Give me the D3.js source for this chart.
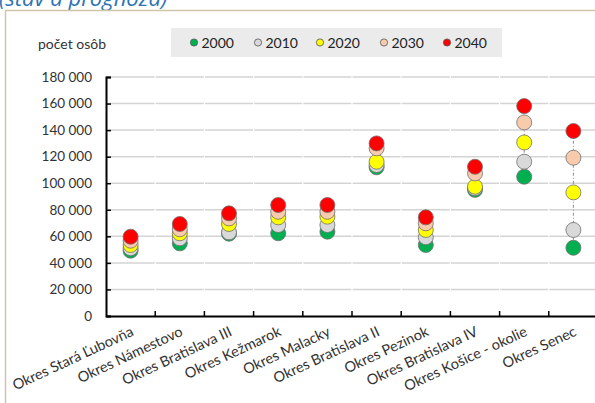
<!DOCTYPE html>
<html><head><meta charset="utf-8">
<script src="https://cdn.jsdelivr.net/npm/d3@7"></script>
<style>html,body{margin:0;padding:0;background:#fff;overflow:hidden}</style>
</head><body>
<svg id="c" width="595" height="403"></svg>
<script>
const categories = ["Okres Stará Ľubovňa","Okres Námestovo","Okres Bratislava III","Okres Kežmarok","Okres Malacky","Okres Bratislava II","Okres Pezinok","Okres Bratislava IV","Okres Košice - okolie","Okres Senec"];
const years = ["2000","2010","2020","2030","2040"];
const v2000 = [49200, 54700, 62000, 62300, 63500, 112000, 53500, 95000, 104900, 51400];
const v2010 = [51000, 58500, 63000, 68500, 68500, 113700, 59300, 96200, 116200, 64800];
const v2020 = [53500, 62300, 69300, 74300, 74800, 116200, 64800, 97400, 130700, 93100];
const v2030 = [56700, 65300, 73500, 78500, 78500, 126300, 69800, 107400, 145800, 119200];
const v2040 = [59700, 69300, 77300, 83600, 83600, 130000, 74300, 112400, 158100, 139300];
const yTicks = [0,20000,40000,60000,80000,100000,120000,140000,160000,180000];
const colors = ["#00b050","#d9d9d9","#ffff00","#f8cbad","#ff0000"];
const series = [v2000, v2010, v2020, v2030, v2040];

const svg = d3.select("#c");
const FONT = "Lato, 'Open Sans', sans-serif";
const L = 106, R = 598, T = 77, B = 316;

// title (cut off at top)
svg.append("text").attr("x", -1).attr("y", 6).attr("font-family", "'Open Sans', sans-serif")
  .attr("font-style", "italic").attr("font-size", 22).attr("fill", "#2e74b5").text("(stav a prognóza)");

// chart frame
svg.append("path").attr("d", "M5.5,403 V10.5 H595").attr("fill", "none").attr("stroke", "#cfc6a8").attr("stroke-width", 1.5);

const x = d3.scaleBand().domain(categories).range([L, R]);
const y = d3.scaleLinear().domain([0, 180000]).range([B, T]);

// gridlines
svg.append("g").selectAll("line").data(yTicks.slice(1)).join("line")
  .attr("x1", L).attr("x2", R).attr("y1", d => y(d)).attr("y2", d => y(d))
  .attr("stroke", "#d4d4d4").attr("stroke-width", 1.5);
// small white gaps at category boundaries
svg.append("g").selectAll("line").data(categories.slice(1)).join("line")
  .attr("x1", d => x(d)).attr("x2", d => x(d)).attr("y1", T - 2).attr("y2", B - 6)
  .attr("stroke", "#fff").attr("stroke-width", 1.2);

// y axis
const yAxis = svg.append("g").attr("transform", `translate(${L},0)`)
  .call(d3.axisLeft(y).tickValues(yTicks).tickSize(-5).tickPadding(14)
    .tickFormat(d => d3.format(",")(d).replace(/,/g, " ")));
yAxis.select(".domain").attr("stroke", "#000").attr("stroke-width", 2);
yAxis.selectAll(".tick line").attr("stroke", "#000").attr("stroke-width", 1.5);
yAxis.selectAll("text").attr("font-family", FONT).attr("font-size", 13.5).attr("fill", "#333");

// x axis
const xAxis = svg.append("g").attr("transform", `translate(0,${B})`)
  .call(d3.axisBottom(x).tickSize(0).tickFormat(""));
xAxis.select(".domain").attr("stroke", "#000").attr("stroke-width", 2);
svg.append("g").selectAll("line").data(categories.slice(1)).join("line")
  .attr("x1", d => x(d)).attr("x2", d => x(d)).attr("y1", B).attr("y2", B - 5)
  .attr("stroke", "#000").attr("stroke-width", 1.5);

// x labels
svg.append("g").selectAll("text").data(categories).join("text")
  .attr("transform", d => `translate(${x(d) + x.bandwidth() / 2 + 4},${B + 19}) rotate(-25)`)
  .attr("text-anchor", "end").attr("font-family", FONT).attr("font-size", 14.5)
  .attr("fill", "#333").text(d => d);

// drop lines
svg.append("g").selectAll("line").data(categories).join("line")
  .attr("x1", d => x(d) + x.bandwidth() / 2).attr("x2", d => x(d) + x.bandwidth() / 2)
  .attr("y1", (d, i) => y(d3.min(series, s => s[i])))
  .attr("y2", (d, i) => y(d3.max(series, s => s[i])))
  .attr("stroke", "#8c8c8c").attr("stroke-width", 1).attr("stroke-dasharray", "3,2,1,2");

// points
series.forEach((s, k) => {
  svg.append("g").selectAll("circle").data(categories).join("circle")
    .attr("cx", d => x(d) + x.bandwidth() / 2)
    .attr("cy", (d, i) => y(s[i]))
    .attr("r", 7.5).attr("fill", colors[k]).attr("stroke", "#6e6e6e").attr("stroke-width", 0.8);
});

// y title
svg.append("text").attr("x", 38).attr("y", 49).attr("font-family", FONT).attr("font-size", 14)
  .attr("fill", "#333").text("počet osôb");

// legend
svg.append("rect").attr("x", 171).attr("y", 28).attr("width", 331).attr("height", 29).attr("fill", "#ebebeb");
const lx = [194, 258, 320, 384, 447];
const lg = svg.append("g").selectAll("g").data(years).join("g")
  .attr("transform", (d, i) => `translate(${lx[i]},42.5)`);
lg.append("circle").attr("r", 3.6).attr("fill", (d, i) => colors[i]).attr("stroke", "#555").attr("stroke-width", 0.8);
lg.append("text").attr("x", 7.5).attr("y", 5).attr("font-family", FONT).attr("font-size", 14)
  .attr("fill", "#222").text(d => d);
</script>
</body></html>
